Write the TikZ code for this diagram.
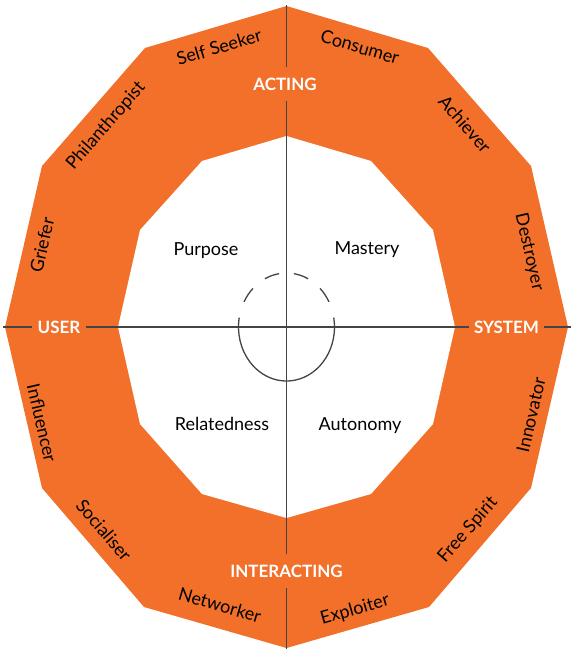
\documentclass[tikz,border=0pt]{standalone}
\usepackage{fontspec}
\setmainfont{Lato}
\definecolor{orng}{HTML}{F2702A}
\definecolor{ln}{HTML}{444444}
\tikzset{
  lbl/.style={font=\fontsize{18}{20}\selectfont, text=black, inner sep=0pt},
  axlbl/.style={font=\bfseries\fontsize{17}{19}\selectfont, text=white},
  hlbl/.style={axlbl, inner xsep=5pt, inner ysep=2pt},
  vlbl/.style={axlbl, inner xsep=2pt, inner ysep=11pt},
  axis/.style={draw=ln, line width=1.5pt},
  ring/.style={draw=ln, line width=1.3pt}
}
\begin{document}
\begin{tikzpicture}[x=1pt,y=-1pt]
\useasboundingbox (0,0) rectangle (572,654);
% outer band
\fill[orng] (286.5,6) -- (428,48) -- (531,166) -- (568,327) -- (531,488) -- (429,607)
  -- (286.5,648) -- (144,607) -- (42,488) -- (5,327) -- (42,166) -- (145,48) -- cycle;
% inner area
\fill[white] (286.5,136) -- (371,161) -- (433,230) -- (455,327) -- (433,424) -- (371,494)
  -- (286.5,518) -- (202,494) -- (140,424) -- (118,327) -- (140,230) -- (202,161) -- cycle;
% ellipse
\coordinate (c) at (286.5,327);
\draw[ring] (c) ++(-10:48 and 54) arc (-10:190:48 and 54);
\foreach \a in {207.8,243.3,278.9,314.4}
  \draw[ring] (c) ++(\a:48 and 54) arc (\a:\a+17.8:48 and 54);
% axis labels
\node[hlbl] (user) at (59,327) {USER};
\node[hlbl] (sys) at (506.5,327) {SYSTEM};
\node[vlbl] (acting) at (285,84) {ACTING};
\node[vlbl] (inter) at (286.5,571) {INTERACTING};
\coordinate (L) at (3,327);
\coordinate (R) at (571,327);
\coordinate (T) at (286.5,5);
\coordinate (B) at (286.5,649);
\draw[axis] (L) -- (user.west);
\draw[axis] (user.east) -- (sys.west);
\draw[axis] (sys.east) -- (R);
\draw[axis] (T) -- (acting.north -| T);
\draw[axis] (acting.south -| T) -- (inter.north -| T);
\draw[axis] (inter.south -| T) -- (B);
% quadrant labels
\node[lbl, anchor=base] (purpose) at (206,255) {Purpose};
\node[lbl, anchor=base] (mastery) at (367,254) {Mastery};
\node[lbl, anchor=base] (related) at (222,430) {Relatedness};
\node[lbl, anchor=base] (autonomy) at (360,430) {Autonomy};
% edge labels
\node[lbl, rotate=16.5] (selfseeker) at (219,47) {Self Seeker};
\node[lbl, rotate=-16.5] (consumer) at (360,47) {Consumer};
\node[lbl, rotate=49] (philan) at (106,126) {Philanthropist};
\node[lbl, rotate=-49] (achiever) at (465,124) {Achiever};
\node[lbl, rotate=77] (griefer) at (42,245) {Griefer};
\node[lbl, rotate=-77] (destroyer) at (529,252) {Destroyer};
\node[lbl, rotate=-77] (influencer) at (42,423) {Influencer};
\node[lbl, rotate=77] (innovator) at (531,415) {Innovator};
\node[lbl, rotate=-49.4] (socialiser) at (104,530) {Socialiser};
\node[lbl, rotate=49] (freespirit) at (468,530) {Free Spirit};
\node[lbl, rotate=-16] (networker) at (220,605) {Networker};
\node[lbl, rotate=16] (exploiter) at (355,610) {Exploiter};
\end{tikzpicture}
\end{document}
